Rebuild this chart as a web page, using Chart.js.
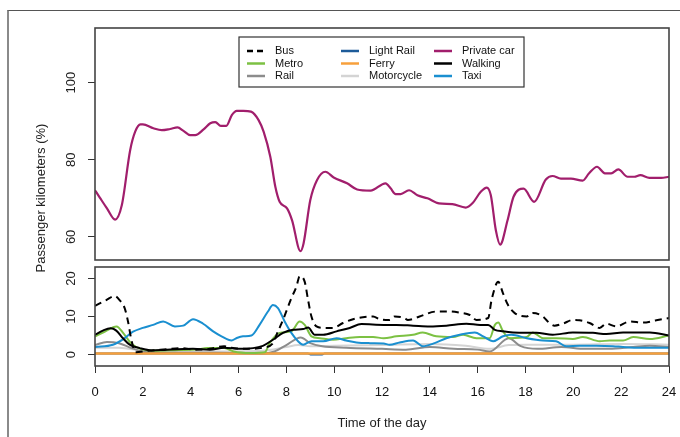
<!DOCTYPE html>
<html>
<head>
<meta charset="utf-8">
<script src="https://cdn.jsdelivr.net/npm/chart.js@4.4.1/dist/chart.umd.min.js"></script>
<style>
html, body { margin: 0; padding: 0; background: #fff; }
#wrap { position: relative; width: 680px; height: 437px; overflow: hidden; background: #fff; }
#frame { position: absolute; left: 7px; top: 10px; width: 700px; height: 460px; border-left: 2px solid #8a8a8a; border-top: 1px solid #555; }
canvas { position: absolute; left: 0; top: 0; }
</style>
</head>
<body>
<div id="wrap">
  <div id="frame"></div>
  <canvas id="topChart" width="680" height="437"></canvas>
  <canvas id="bottomChart" width="680" height="437"></canvas>
</div>
<script>
// values (hours of the day -> share in %)
const carHours = [0, 0.2, 0.5, 0.84, 1.12, 1.47, 1.68, 1.9, 2.0, 2.44, 2.79, 3.14, 3.45, 3.7, 3.98, 4.19, 4.54, 4.82, 5.03, 5.26, 5.49, 5.72, 5.93, 6.2, 6.52, 6.84, 7.05, 7.33, 7.54, 7.72, 8.03, 8.24, 8.59, 8.72, 9.0, 9.28, 9.63, 9.98, 10.54, 10.96, 11.52, 12.15, 12.36, 12.57, 12.78, 13.13, 13.48, 13.9, 14.38, 14.94, 15.5, 15.78, 16.13, 16.38, 16.55, 16.76, 16.94, 17.25, 17.5, 17.92, 18.36, 18.85, 19.13, 19.48, 19.9, 20.39, 20.66, 20.99, 21.32, 21.58, 21.88, 22.27, 22.55, 22.8, 23.18, 23.67, 24]
const carValues = [72.1, 70.2, 67.4, 64.5, 68.2, 82.5, 87.3, 89.2, 89.2, 88.2, 87.7, 88.0, 88.4, 87.5, 86.4, 86.4, 87.9, 89.5, 89.8, 88.8, 88.8, 91.6, 92.7, 92.7, 92.5, 90.3, 87.3, 80.8, 73.0, 69.1, 67.4, 64.3, 56.3, 58.3, 69.5, 74.7, 76.9, 75.4, 73.9, 72.3, 72.0, 73.9, 72.6, 71.1, 71.1, 72.1, 70.8, 70.0, 68.7, 68.5, 67.6, 68.7, 71.7, 72.8, 70.8, 61.7, 58.0, 64.3, 70.4, 72.5, 69.1, 74.9, 75.8, 75.1, 75.1, 74.6, 76.5, 78.2, 76.5, 76.5, 77.5, 75.6, 75.6, 76.0, 75.3, 75.3, 75.6]

const busHours = [0, 0.47, 0.82, 1.03, 1.24, 1.38, 1.52, 1.7, 2.2, 3.0, 3.6, 4.2, 4.8, 5.4, 5.7, 6.5, 7.0, 7.44, 7.65, 7.86, 8.21, 8.42, 8.56, 8.77, 8.91, 9.05, 9.26, 9.54, 9.95, 10.37, 10.79, 11.2, 11.63, 11.9, 12.32, 12.53, 12.94, 13.08, 13.57, 14.27, 14.83, 15.25, 15.67, 15.95, 16.44, 16.58, 16.86, 17.06, 17.27, 17.55, 18.05, 18.3, 18.73, 18.93, 19.21, 19.56, 19.98, 20.26, 20.68, 21.1, 21.38, 21.8, 22.36, 22.91, 23.47, 24]
const busValues = [12.8, 14.3, 15.4, 14.3, 12.2, 8.7, 3.9, 0.6, 1.0, 1.4, 1.7, 1.3, 1.5, 2.2, 1.8, 1.5, 1.8, 3.0, 6.1, 9.1, 14.8, 17.8, 20.6, 19.1, 14.3, 10.0, 7.4, 7.0, 7.0, 8.3, 9.3, 9.8, 10.0, 9.3, 9.1, 10.0, 9.6, 9.1, 10.0, 11.3, 11.3, 11.0, 10.4, 9.1, 9.6, 14.3, 19.1, 16.1, 13.0, 10.9, 10.0, 10.9, 10.0, 8.7, 7.6, 8.1, 9.1, 9.0, 8.3, 7.0, 8.1, 7.4, 8.7, 8.4, 9.0, 9.6]

const walkHours = [0, 0.33, 0.65, 0.89, 1.17, 1.45, 1.87, 2.36, 3.0, 4.1, 4.8, 5.4, 6.07, 7.02, 7.44, 7.86, 8.28, 8.7, 8.91, 9.19, 9.54, 10.1, 10.65, 11.14, 12.07, 12.6, 13.3, 14.0, 14.69, 15.53, 16.1, 16.44, 16.72, 17.06, 17.48, 18.05, 18.45, 19.14, 19.98, 20.82, 21.38, 22.08, 23.2, 24]
const walkValues = [5.2, 6.3, 6.9, 6.3, 4.3, 2.6, 1.7, 1.1, 1.3, 1.5, 1.3, 1.8, 1.5, 2.3, 3.9, 5.7, 6.5, 6.7, 7.1, 5.2, 5.2, 6.1, 7.0, 8.0, 7.8, 7.8, 7.6, 7.4, 7.6, 8.1, 7.8, 7.8, 6.5, 6.1, 5.8, 5.7, 5.7, 5.2, 5.8, 5.7, 5.4, 5.8, 5.8, 5.0]

const metroHours = [0, 0.4, 0.9, 1.2, 1.5, 1.9, 2.5, 3.5, 4.2, 4.7, 5.4, 5.8, 6.5, 7.1, 7.3, 7.72, 8.21, 8.56, 8.77, 9.05, 9.4, 9.95, 10.5, 11.07, 11.63, 12.07, 12.6, 13.3, 13.7, 14.27, 14.97, 15.39, 15.95, 16.5, 16.72, 16.86, 17.06, 17.34, 18.05, 18.3, 18.73, 19.28, 19.98, 20.4, 21.1, 21.52, 22.08, 22.5, 23.2, 24]
const metroValues = [4.8, 6.0, 7.4, 5.5, 3.0, 1.5, 1.0, 1.2, 1.3, 1.7, 1.7, 0.8, 0.4, 0.6, 3.0, 5.7, 6.1, 8.7, 7.8, 4.8, 4.3, 3.9, 4.3, 4.6, 4.6, 4.3, 4.8, 5.2, 5.8, 4.8, 4.6, 5.2, 4.3, 4.3, 7.8, 8.4, 6.1, 4.3, 4.6, 5.8, 4.3, 4.3, 4.1, 4.6, 3.5, 3.7, 3.7, 4.6, 4.1, 5.0]

const taxiHours = [0, 0.75, 1.17, 1.59, 2.0, 2.43, 2.85, 3.34, 3.69, 4.1, 4.52, 4.94, 5.29, 5.71, 5.91, 6.19, 6.54, 6.88, 7.23, 7.44, 7.65, 7.93, 8.21, 8.49, 8.7, 9.05, 9.54, 10.1, 10.5, 10.93, 11.5, 12.07, 12.32, 12.74, 13.3, 13.7, 14.2, 14.69, 15.25, 15.88, 16.23, 16.65, 17.06, 17.41, 18.05, 18.73, 19.28, 19.7, 20.26, 20.96, 21.66, 22.08, 22.77, 24]
const taxiValues = [2.0, 2.6, 4.0, 6.0, 7.0, 7.8, 8.7, 7.4, 7.6, 9.3, 8.1, 6.1, 4.8, 3.7, 4.3, 4.8, 5.0, 7.8, 11.3, 13.0, 12.2, 8.7, 5.7, 3.5, 2.6, 3.5, 3.5, 4.3, 3.7, 3.2, 3.0, 2.9, 2.6, 3.2, 3.7, 2.2, 3.0, 4.3, 5.2, 5.8, 4.8, 3.5, 4.8, 5.2, 4.3, 3.7, 3.5, 2.2, 2.3, 2.3, 2.2, 2.0, 1.8, 1.8]

const railHours = [0, 0.5, 1.0, 1.5, 2.0, 3.0, 5.0, 7.0, 7.5, 8.0, 8.6, 9.0, 9.5, 10.5, 12.0, 13.0, 14.0, 15.0, 16.0, 16.5, 17.3, 17.8, 18.5, 19.5, 20.5, 21.5, 22.5, 23.2, 24]
const railValues = [2.5, 3.3, 3.0, 1.8, 0.8, 0.5, 0.5, 0.3, 0.8, 2.5, 4.5, 3.0, 2.2, 1.8, 1.5, 1.3, 2.0, 1.5, 1.3, 0.8, 4.3, 2.2, 1.5, 2.0, 1.5, 1.5, 2.0, 2.3, 2.0]

const motoHours = [0, 1.0, 2.0, 3.0, 5.0, 7.0, 8.0, 8.5, 9.0, 10.0, 12.0, 14.0, 15.5, 16.5, 17.3, 18.0, 20.0, 22.0, 24]
const motoValues = [1.8, 1.8, 1.0, 0.8, 0.8, 1.0, 2.0, 2.5, 2.2, 2.3, 2.5, 2.8, 2.3, 1.5, 2.5, 2.6, 2.6, 2.8, 2.6]

const ferryHours = [0, 6, 12, 18, 24]
const ferryValues = [0.3, 0.3, 0.3, 0.3, 0.3]

const lightRailHours = [0, 8.9, 9.05, 9.5, 9.6, 24]
const lightRailValues = [0.3, 0.3, 0, 0, 0.3, 0.3]

const xTicks = [0, 2, 4, 6, 8, 10, 12, 14, 16, 18, 20, 22, 24]
const topYTicks = [60, 80, 100]
const bottomYTicks = [0, 10, 20]

// legend, column by column as in the figure
const legendNames = ['Bus', 'Metro', 'Rail', 'Light Rail', 'Ferry', 'Motorcycle', 'Private car', 'Walking', 'Taxi']
const legendColors = ['#000000', '#7cc143', '#8c8c8c', '#1d5b99', '#f7a03c', '#d4d4d4', '#a11e6c', '#000000', '#1a8fd0']

const FONT = '"Liberation Sans", Arial, sans-serif'
const pts = (hs, vs) => hs.map((h, i) => ({ x: h, y: vs[i] }))
const col = name => legendColors[legendNames.indexOf(name)]

function line(name, hs, vs, order, extra){
	return Object.assign({ label: name, data: pts(hs, vs), borderColor: col(name), borderWidth: 2,
		pointRadius: 0, fill: false, cubicInterpolationMode: 'monotone', order }, extra || {})
}

const panelBox = {
	id: 'panelBox',
	afterDatasetsDraw(chart){
		const a = chart.chartArea, c = chart.ctx
		c.save(); c.strokeStyle = '#444'; c.lineWidth = 1.6
		c.strokeRect(a.left, a.top, a.right - a.left, a.bottom - a.top)
		c.restore()
	}
}

// R style y labels, turned to read upwards
const upLabels = {
	id: 'upLabels',
	afterDraw(chart){
		const s = chart.scales.y, c = chart.ctx
		c.save(); c.font = '13px ' + FONT; c.fillStyle = '#222'; c.textAlign = 'center'; c.textBaseline = 'middle'
		s.ticks.forEach(t => {
			c.save(); c.translate(71, s.getPixelForValue(t.value)); c.rotate(-Math.PI / 2)
			c.fillText(String(t.value), 0, 0); c.restore()
		})
		c.restore()
	}
}

const boxLegend = {
	id: 'boxLegend',
	afterDraw(chart){
		const c = chart.ctx
		c.save()
		c.fillStyle = '#fff'; c.fillRect(239, 37, 285, 50)
		c.strokeStyle = '#333'; c.lineWidth = 1.2; c.strokeRect(239, 37, 285, 50)
		c.font = '11px ' + FONT; c.textBaseline = 'middle'; c.textAlign = 'left'
		const colX = [247, 341, 434], rowY = [51, 63.5, 76]
		legendNames.forEach((n, i) => {
			const x = colX[Math.floor(i / 3)], y = rowY[i % 3]
			c.strokeStyle = legendColors[i]; c.lineWidth = 2.5
			c.setLineDash(n === 'Bus' ? [6, 4] : [])
			c.beginPath(); c.moveTo(x, y); c.lineTo(x + 18, y); c.stroke()
			c.setLineDash([])
			c.fillStyle = '#111'; c.fillText(n, x + 28, y)
		})
		c.restore()
	}
}

const axisTitles = {
	id: 'axisTitles',
	afterDraw(chart){
		const c = chart.ctx, a = chart.chartArea
		c.save(); c.font = '13px ' + FONT; c.fillStyle = '#222'; c.textAlign = 'center'; c.textBaseline = 'middle'
		c.fillText('Time of the day', (a.left + a.right) / 2, 423)
		c.translate(41, 198); c.rotate(-Math.PI / 2)
		c.fillText('Passenger kilometers (%)', 0, 0)
		c.restore()
	}
}

const yAxis = (min, max, ticks) => ({
	min, max,
	afterBuildTicks: s => { s.ticks = ticks.map(v => ({ value: v })) },
	afterFit: s => { s.width = 7 },
	ticks: { display: false },
	grid: { drawOnChartArea: false, drawTicks: true, tickLength: 7, color: '#333' },
	border: { display: false }
})

const common = { responsive: false, animation: false, events: [],
	plugins: { legend: { display: false }, tooltip: { enabled: false } } }

new Chart(document.getElementById('topChart'), {
	type: 'line',
	data: { datasets: [ line('Private car', carHours, carValues, 0, { borderWidth: 2.2 }) ] },
	options: Object.assign({}, common, {
		layout: { padding: { left: 88, right: 11, top: 28, bottom: 177 } },
		scales: {
			x: { type: 'linear', min: 0, max: 24, display: false },
			y: yAxis(54, 114.2, topYTicks)
		}
	}),
	plugins: [panelBox, upLabels, boxLegend]
})

new Chart(document.getElementById('bottomChart'), {
	type: 'line',
	data: { datasets: [
		line('Bus', busHours, busValues, 0, { borderDash: [7, 5] }),
		line('Walking', walkHours, walkValues, 1),
		line('Taxi', taxiHours, taxiValues, 2),
		line('Metro', metroHours, metroValues, 3),
		line('Ferry', ferryHours, ferryValues, 4, { borderWidth: 2.4 }),
		line('Light Rail', lightRailHours, lightRailValues, 5),
		line('Rail', railHours, railValues, 6),
		line('Motorcycle', motoHours, motoValues, 7)
	] },
	options: Object.assign({}, common, {
		layout: { padding: { left: 88, right: 11, top: 267, bottom: 0 } },
		scales: {
			x: { type: 'linear', min: 0, max: 24,
				afterBuildTicks: s => { s.ticks = xTicks.map(v => ({ value: v })) },
				afterFit: s => { s.height = 71; s.paddingLeft = 0; s.paddingRight = 0 },
				ticks: { font: { size: 13, family: FONT }, color: '#111', padding: 12, maxRotation: 0 },
				grid: { drawOnChartArea: false, drawTicks: true, tickLength: 7, color: '#333' },
				border: { display: false } },
			y: yAxis(-3, 23, bottomYTicks)
		}
	}),
	plugins: [panelBox, upLabels, axisTitles]
})
</script>
</body>
</html>
